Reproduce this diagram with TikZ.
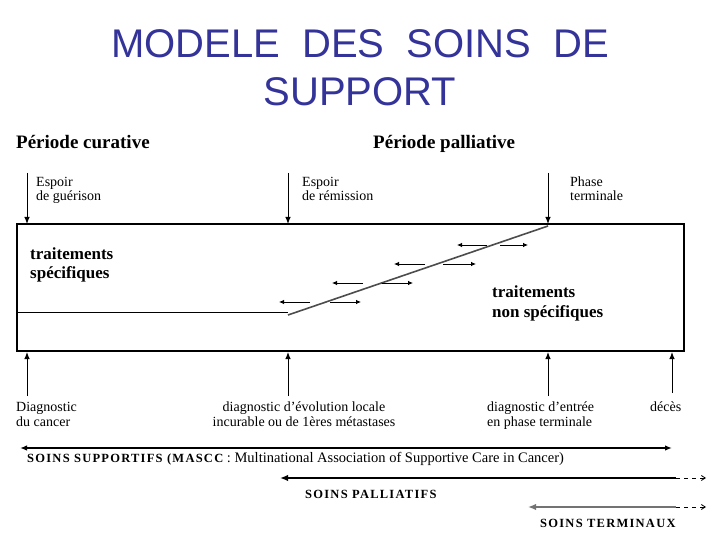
\documentclass[tikz,border=0pt]{standalone}
\usepackage{fontspec}
\setmainfont{Liberation Serif}
\newfontfamily\titlefont{Liberation Sans}
\usetikzlibrary{arrows.meta}
\definecolor{titleblue}{RGB}{51,51,153}
\begin{document}
\begin{tikzpicture}[x=1pt,y=-1pt,
  title/.style={anchor=base, inner sep=0pt, text=titleblue, font=\titlefont\fontsize{40}{44}\selectfont},
  hdr/.style={anchor=base west, inner sep=0pt, font=\fontsize{19}{21}\selectfont\bfseries},
  lbl/.style={anchor=base west, inner sep=0pt, font=\fontsize{14}{16}\selectfont},
  clbl/.style={lbl, anchor=base},
  trt/.style={anchor=base west, inner sep=0pt, font=\fontsize{17}{19}\selectfont\bfseries},
  caps/.style={anchor=base west, inner sep=0pt, font=\fontsize{12.5}{14}\selectfont\bfseries\addfontfeatures{LetterSpace=10}},
  marrow/.style={line width=1pt, -{Latex[length=7pt,width=5.5pt]}},
  sarrow/.style={line width=0.8pt, -{Latex[length=5pt,width=4.5pt]}},
  dashext/.style={line width=0.8pt, dash pattern=on 4pt off 4pt, -{Straight Barb[length=4pt,width=5pt]}}
]
\useasboundingbox (0,0) rectangle (720,540);

% title
\node[title] (t1) at (360,58) {MODELE\ \ DES\ \ SOINS\ \ DE};
\node[title] (t2) at (360,106) {SUPPORT};

% period headers
\node[hdr] (pcur) at (16,149) {Période curative};
\node[hdr] (ppal) at (373,149) {Période palliative};

% top arrows
\coordinate (ta1) at (27,173);  \coordinate (tb1) at (27,224);
\coordinate (ta2) at (288,173); \coordinate (tb2) at (288,224);
\coordinate (ta3) at (548,173); \coordinate (tb3) at (548,224);
\draw[marrow] (ta1) -- (tb1);
\draw[marrow] (ta2) -- (tb2);
\draw[marrow] (ta3) -- (tb3);
\node[lbl] (e1a) at (36,187) {Espoir};
\node[lbl] (e1b) at (36,201) {de guérison};
\node[lbl] (e2a) at (302,187) {Espoir};
\node[lbl] (e2b) at (302,201) {de rémission};
\node[lbl] (e3a) at (570,187) {Phase};
\node[lbl] (e3b) at (570,201) {terminale};

% main box
\coordinate (bx1) at (17,224);
\coordinate (bx2) at (684,351);
\draw[line width=2pt] (bx1) rectangle (bx2);
\coordinate (hl1) at (17,312); \coordinate (hl2) at (288,312);
\draw[line width=1pt] (hl1) -- (hl2);
\coordinate (dg1) at (288,315); \coordinate (dg2) at (548,226);
\draw[line width=1.6pt, black!70] (dg1) -- (dg2);

% small arrow pairs
\foreach \i/\y/\la/\lb/\ra/\rb in {1/302/310/279/330/361, 2/283/363/332/382/413, 3/264/425/394/443/476, 4/245/487/457/500/528}{
  \coordinate (pl\i s) at (\la,\y); \coordinate (pl\i e) at (\lb,\y);
  \coordinate (pr\i s) at (\ra,\y); \coordinate (pr\i e) at (\rb,\y);
  \draw[sarrow] (pl\i s) -- (pl\i e);
  \draw[sarrow] (pr\i s) -- (pr\i e);
}

\node[trt] (ts1) at (30,259) {traitements};
\node[trt] (ts2) at (30,278) {spécifiques};
\node[trt] (tn1) at (492,297) {traitements};
\node[trt] (tn2) at (492,317) {non spécifiques};

% bottom arrows
\coordinate (ba1) at (27,396);  \coordinate (bb1) at (27,352);
\coordinate (ba2) at (288,396); \coordinate (bb2) at (288,352);
\coordinate (ba3) at (548,396); \coordinate (bb3) at (548,352);
\coordinate (ba4) at (672,393); \coordinate (bb4) at (672,352);
\draw[marrow] (ba1) -- (bb1);
\draw[marrow] (ba2) -- (bb2);
\draw[marrow] (ba3) -- (bb3);
\draw[marrow] (ba4) -- (bb4);

\node[lbl] (d1a) at (16,411) {Diagnostic};
\node[lbl] (d1b) at (16,426) {du cancer};
\node[clbl] (d2a) at (304,411) {diagnostic d'évolution locale};
\node[clbl] (d2b) at (304,426) {incurable ou de 1ères métastases};
\node[lbl] (d3a) at (487,411) {diagnostic d'entrée};
\node[lbl] (d3b) at (487,426) {en phase terminale};
\node[lbl] (d4) at (650,411) {décès};

% soins supportifs
\coordinate (ss1) at (20,448); \coordinate (ss2) at (672,448);
\draw[line width=1.5pt, {Latex[length=7pt,width=5.5pt]}-{Latex[length=7pt,width=5.5pt]}] (ss1) -- (ss2);
\node[lbl, anchor=base west, font=\fontsize{14.5}{16}\selectfont] (sst) at (27,462) {{\fontsize{12.5}{14}\selectfont\bfseries\addfontfeatures{LetterSpace=10}SOINS SUPPORTIFS (MASCC} : Multinational Association of Supportive Care in Cancer)};

% soins palliatifs
\coordinate (sp1) at (280,478); \coordinate (sp2) at (676,478); \coordinate (sp3) at (706,478);
\draw[line width=2.5pt, {Latex[length=8pt,width=6.5pt]}-] (sp1) -- (sp2);
\draw[dashext] (sp2) -- (sp3);
\node[caps] (spt) at (305,498) {SOINS PALLIATIFS};

% soins terminaux
\coordinate (st1) at (528,507); \coordinate (st2) at (676,507); \coordinate (st3) at (706,507);
\draw[line width=2.5pt, black!55, {Latex[length=8pt,width=6.5pt]}-] (st1) -- (st2);
\draw[dashext] (st2) -- (st3);
\node[caps] (stt) at (540,527) {SOINS TERMINAUX};
\end{tikzpicture}
\end{document}
